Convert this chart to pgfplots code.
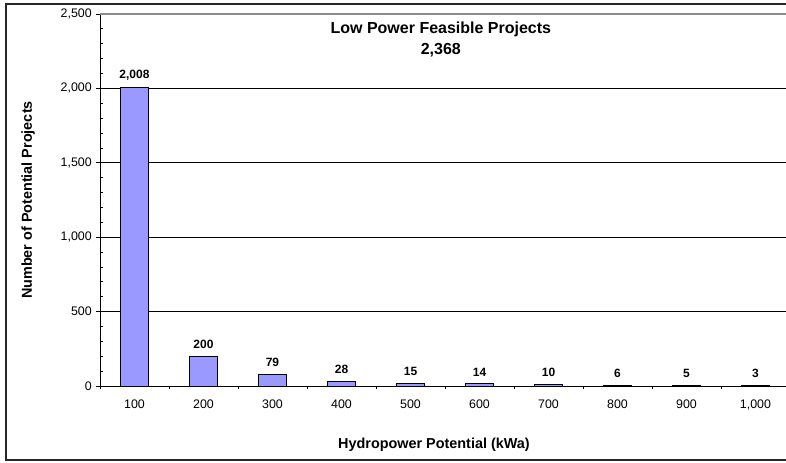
\documentclass[border=0pt]{standalone}
\usepackage{pgfplots}
\pgfplotsset{compat=1.18}
\usepackage{fontspec}
\setmainfont{Liberation Sans}
\definecolor{barblue}{HTML}{9999FF}

\begin{document}
\begin{tikzpicture}
\begin{axis}[
    width=517.5pt, height=279pt, scale only axis,
    xmin=-0.5, xmax=9.5, ymin=0, ymax=2500,
    ybar, bar width=21pt,
    xtick={0,...,9},
    xticklabels={100,200,300,400,500,600,700,800,900,{1,000}},
    major x tick style={draw=none},
    minor xtick={-0.5,0.5,...,9.5},
    ytick={0,500,...,2000},
    extra y ticks={2500},
    extra y tick style={major grid style={draw=black!45, line width=1.2pt}},
    minor ytick={0,100,...,2500},
    ymajorgrids,
    major grid style={black, line width=0.6pt},
    axis x line*=bottom, axis y line*=left,
    axis line style={black, line width=0.7pt},
    tick align=outside,
    major tick length=3pt, minor tick length=2.5pt,
    minor y tick style={xshift=2.5pt},
    tick style={black, line width=0.6pt},
    ticklabel style={font=\fontsize{9.3}{11}\selectfont},
    xticklabel style={anchor=north, inner sep=0pt, yshift=-7pt},
    yticklabel style={anchor=east, inner sep=0pt, xshift=-3pt},
    /pgf/number format/1000 sep={,},
    /pgf/number format/assume math mode=true,
    nodes near coords,
    nodes near coords style={font=\bfseries\fontsize{9}{11}\selectfont, anchor=center, yshift=9pt},
    xlabel={Hydropower Potential (kWa)},
    xlabel style={at={(axis description cs:0.484,-0.1586)}, anchor=center, font=\bfseries\fontsize{10.8}{13}\selectfont},
    ylabel={Number of Potential Projects},
    ylabel style={at={(axis description cs:-0.1043,0.5)}, anchor=center, font=\bfseries\fontsize{10.8}{13}\selectfont},
    title={Low Power Feasible Projects\\2,368},
    title style={at={(axis description cs:0.494,0.911)}, anchor=center, align=center, font=\bfseries\fontsize{12}{15.75}\selectfont},
]
\addplot[fill=barblue, draw=black, line width=0.75pt] coordinates {
  (0, 2008)
  (1, 200)
  (2, 79)
  (3, 28)
  (4, 15)
  (5, 14)
  (6, 10)
  (7, 6)
  (8, 5)
  (9, 3)
};
\end{axis}
\draw[line width=1.1pt, black!85] (530pt,286.5pt) -- (-70.5pt,286.5pt) -- (-70.5pt,-55.5pt) -- (530pt,-55.5pt);
\pgfresetboundingbox
\useasboundingbox (-75pt,-57pt) rectangle (514.5pt,289.5pt);
\end{tikzpicture}
\end{document}
